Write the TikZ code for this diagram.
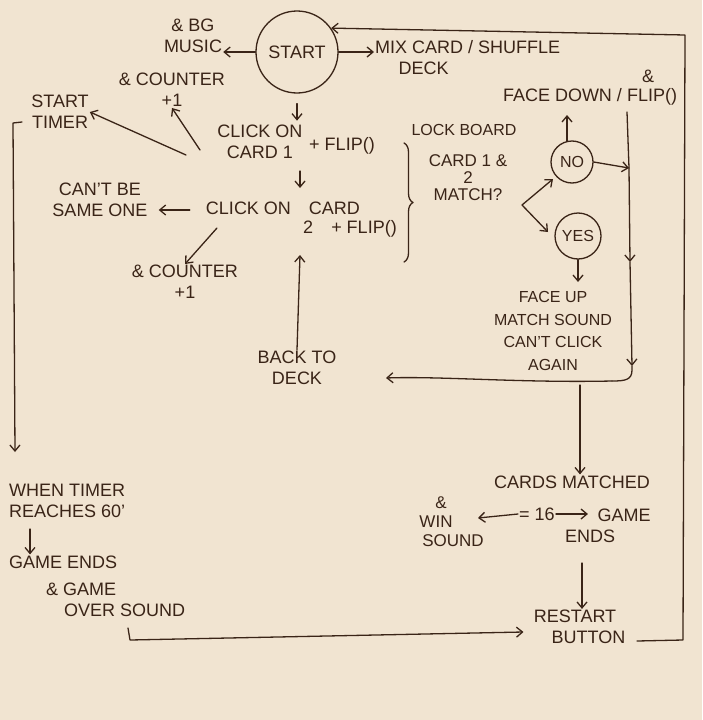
\documentclass[tikz,border=0pt]{standalone}
\usepackage{fontspec}
\setmainfont{Liberation Sans}
\usetikzlibrary{arrows.meta,decorations.pathreplacing,calc}
\definecolor{paper}{HTML}{F1E4D1}
\definecolor{ink}{HTML}{3A2417}
\begin{document}
\begin{tikzpicture}[x=1pt,y=-1pt,
  txt/.style={text=ink, font=\fontsize{18}{21}\selectfont, align=center, inner sep=1pt},
  arr/.style={draw=ink, line width=1.3pt, line cap=round, line join=round, -{Straight Barb[length=6pt,width=10pt]}},
  ln/.style={draw=ink, line width=1.3pt, line cap=round, line join=round},
  circ/.style={draw=ink, line width=1.3pt, circle, inner sep=0pt, text=ink, font=\fontsize{16}{18}\selectfont}]
\fill[paper] (0,0) rectangle (702,720);
\useasboundingbox (0,0) rectangle (702,720);

% top
\node[circ, minimum size=82pt, font=\fontsize{18}{20}\selectfont] (start) at (297,52) {START};
\node[txt] (bg) at (193,36) {\& BG\\MUSIC};
\node[txt, anchor=west, align=left] (mix) at (374,58) {MIX CARD / SHUFFLE\\\hspace*{1.3em}DECK};
\node[txt] (cnt1) at (172,90) {\& COUNTER\\+1};
\node[txt] (timer) at (60,112) {START\\TIMER};

% clicks
\node[txt] (click1) at (260,142) {CLICK ON\\CARD 1};
\node[txt] (flip1) at (342,146) {+ FLIP()};
\node[txt] (click2) at (283,208) {CLICK ON\quad CARD};
\node[txt] (flip2) at (350,229) {2\quad + FLIP()};
\node[txt] (same) at (100,200) {CAN'T BE\\SAME ONE};
\node[txt] (cnt2) at (185,282) {\& COUNTER\\+1};
\node[txt] (back) at (297,368) {BACK TO\\DECK};

\draw[ln, decorate, decoration={brace, amplitude=9pt}] (404,143) -- (404,262);

% match decision
\node[txt, font=\fontsize{16}{18}\selectfont] (lock) at (464,130) {LOCK BOARD};
\node[txt, font=\fontsize{17}{17}\selectfont] (match) at (468,178) {CARD 1 \&\\2\\MATCH?};
\node[circ, minimum size=42pt] (no) at (572,162) {NO};
\node[circ, minimum size=46pt] (yes) at (578,236) {YES};
\node[txt] (fdown) at (590,97) {FACE DOWN / FLIP()};
\node[txt] (amp) at (648,76) {\&};
\node[txt, font=\fontsize{16}{22.5}\selectfont] (faceup) at (553,331) {FACE UP\\MATCH SOUND\\CAN'T CLICK\\AGAIN};

\coordinate (fork) at (522,205);
\draw[arr] (fork) -- (553,179);
\draw[arr] (fork) -- (548,232);
\draw[arr] (567,141) -- (567,115);
\draw[arr] (no.east) -- (629,168);
\draw[arr] (yes.south) -- (578,282);

% right vertical line
\draw[ln] (627,112) -- (629,168);
\draw[arr] (629,168) -- (630,262);
\draw[arr] (630,262) -- (632,366);
\draw[ln] (632,366) -- (632,370) .. controls (632,380) and (625,381) .. (612,381);
\coordinate (backin) at (386,378);
\draw[arr] (612,381) .. controls (520,383) and (440,376) .. (backin);

% internal arrows
\draw[arr] ($(start.south)+(0,10)$) -- ($(start.south)+(0,27)$);
\draw[arr] (start.west) -- (start.west -| bg.east);
\draw[arr] (start.east) -- (start.east -| mix.west);
\draw[arr] (186,155) -- (timer.east);
\draw[arr] (200,150) -- (cnt1.south);
\draw[arr] (300,171) -- (300,188);
\draw[arr] ($(click2.west)+(-15,2)$) -- ($(same.east |- click2.west)+(10,2)$);
\draw[arr] (217,228) -- (cnt2.north);
\draw[arr] (back.north) -- (300,255);

% bottom right
\node[txt] (cards) at (572,482) {CARDS MATCHED};
\node[txt] (eq) at (537,514) {= 16};
\node[txt, anchor=west, align=left] (gends) at (564,526) {\hspace*{1.8em}GAME\\ENDS};
\node[txt, font=\fontsize{17}{19}\selectfont] (win) at (436,522) {\hspace*{0.6em}\&\\WIN\hspace*{1em}\\\hspace*{2em}SOUND};
\node[txt] (restart) at (575,627) {RESTART\\\hspace*{1.5em}BUTTON};

\coordinate (c580) at (580,0);
\coordinate (c582) at (582,0);
\draw[arr] (580,385) -- (c580 |- cards.north);
\draw[arr] (eq.west) -- (478,518);
\draw[arr] (eq.east) -- ($(eq.east)+(32,0)$);
\draw[arr] (582,563) -- (c582 |- restart.north);

% outer loop
\draw[arr] (637,641) -- (683,640) -- (685,35) -- (start.35);

% left side
\node[txt, anchor=west, align=left] (when) at (8,501) {WHEN TIMER\\REACHES 60'};
\node[txt, anchor=west] (gend2) at (8,562) {GAME ENDS};
\node[txt, anchor=west, align=left] (over) at (45,600) {\& GAME\\\hspace*{1em}OVER SOUND};
\coordinate (c30) at (30,0);
\coordinate (y632) at (0,632);
\draw[arr] (22,122) -- (13,123) -- (15,452);
\draw[arr] (30,529) -- (c30 |- gend2.north);
\draw[arr] (128,628) -- (130,640) -- (restart.west |- y632);
\end{tikzpicture}
\end{document}
